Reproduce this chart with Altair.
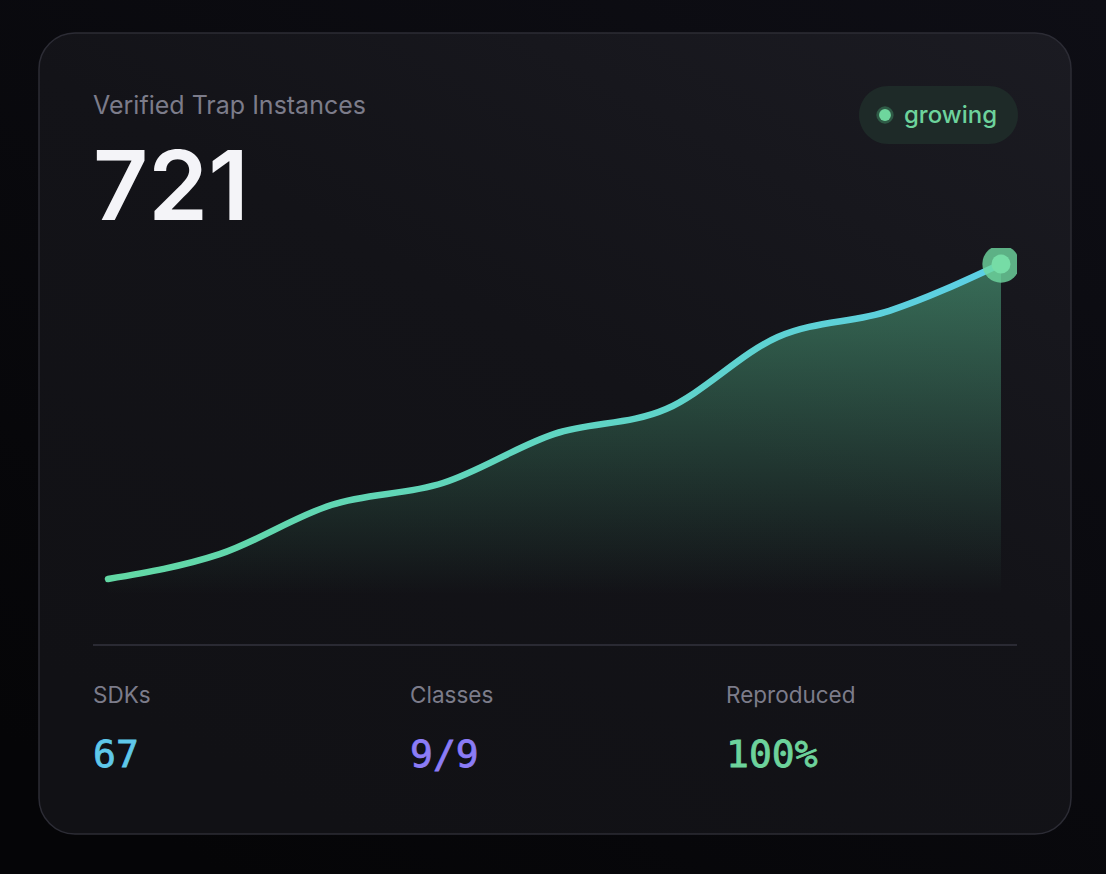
import altair as alt
import pandas as pd

# ---- data ----
periods = [0, 1, 2, 3, 4, 5, 6, 7, 8]
instances = [35, 89, 196, 244, 351, 405, 562, 619, 721]

title_text = "Verified Trap Instances"
headline = "721"
badge_text = "growing"
stat_labels = ["SDKs", "Classes", "Reproduced"]
stat_values = ["67", "9/9", "100%"]
stat_colors = ["#5fc8ea", "#8b7cf6", "#6dd39c"]

df = pd.DataFrame({"i": periods, "v": instances})
one = pd.DataFrame({"a": [0]})

X = alt.X("i:Q", axis=None,
          scale=alt.Scale(domain=[0, 8], range=[15, 908], nice=False, zero=False))
Y = alt.Y("v:Q", axis=None,
          scale=alt.Scale(domain=[0, 721], range=[347, 16], nice=False))

# outer background
outer = alt.Chart(one).mark_rect(
    color=alt.Gradient(gradient="linear",
                       stops=[alt.GradientStop(color="#0e0e15", offset=0),
                              alt.GradientStop(color="#050507", offset=1)],
                       x1=1, x2=0.2, y1=0, y2=1)
).encode(x=alt.value(-93), x2=alt.value(1013), y=alt.value(-248), y2=alt.value(626))

card = alt.Chart(one).mark_rect(
    cornerRadius=36,
    stroke="#2c2c35", strokeWidth=1.5,
    fill=alt.Gradient(gradient="linear",
                      stops=[alt.GradientStop(color="#1b1b22", offset=0),
                             alt.GradientStop(color="#131318", offset=0.5),
                             alt.GradientStop(color="#111115", offset=1)],
                      x1=1, y1=0, x2=0.3, y2=1)
).encode(x=alt.value(-54), x2=alt.value(978), y=alt.value(-215), y2=alt.value(586))

divider = alt.Chart(one).mark_rule(color="#2a2a33", strokeWidth=2).encode(
    x=alt.value(0), x2=alt.value(924), y=alt.value(397))

area = alt.Chart(df).mark_area(
    interpolate="monotone",
    color=alt.Gradient(gradient="linear",
                       stops=[alt.GradientStop(color="rgba(96,214,160,0.45)", offset=0),
                              alt.GradientStop(color="rgba(96,214,160,0.0)", offset=1)],
                       x1=0, x2=0, y1=0, y2=1)
).encode(x=X, y=Y)

line = alt.Chart(df).mark_line(
    interpolate="monotone", strokeWidth=6.5, strokeCap="round",
    stroke=alt.Gradient(gradient="linear",
                        stops=[alt.GradientStop(color="#62d8a4", offset=0),
                               alt.GradientStop(color="#5fd4c4", offset=0.55),
                               alt.GradientStop(color="#5ccfe6", offset=1)],
                        x1=0, x2=1, y1=0, y2=0)
).encode(x=X, y=Y)

last = alt.datum.i == periods[-1]
halo = alt.Chart(df).transform_filter(last).mark_circle(
    size=1390, color="#6fd8a0", opacity=0.8, clip=True).encode(x=X, y=Y)
dot_end = alt.Chart(df).transform_filter(last).mark_circle(
    size=360, color="#76dca6", opacity=1, clip=True).encode(x=X, y=Y)

pill = alt.Chart(one).mark_rect(cornerRadius=29, color="#1e2a28").encode(
    x=alt.value(766), x2=alt.value(925), y=alt.value(-162), y2=alt.value(-104))
pill_ring = alt.Chart(one).mark_circle(size=300, color="#2f5a46", opacity=1).encode(
    x=alt.value(792), y=alt.value(-133))
pill_dot = alt.Chart(one).mark_circle(size=140, color="#6ed69d", opacity=1).encode(
    x=alt.value(792), y=alt.value(-133))
pill_text = alt.Chart(one).mark_text(
    text=badge_text, font="Inter", fontSize=24, fontWeight=500, color="#6dd39c",
    align="left", baseline="middle").encode(x=alt.value(811), y=alt.value(-132))

title = alt.Chart(one).mark_text(
    text=title_text, font="Inter", fontSize=25, fontWeight=400, color="#7c7c8a",
    align="left", baseline="alphabetic").encode(x=alt.value(0), y=alt.value(-134))
big = alt.Chart(one).mark_text(
    text=headline, font="Inter", fontSize=96, fontWeight=600, color="#f4f4f8",
    align="left", baseline="alphabetic").encode(x=alt.value(0), y=alt.value(-28))

stat_x = [0, 317, 633]
stat_layers = []
for lab, val, col, sx in zip(stat_labels, stat_values, stat_colors, stat_x):
    stat_layers.append(alt.Chart(one).mark_text(
        text=lab, font="Inter", fontSize=22.5, fontWeight=400, color="#7c7c8a",
        align="left", baseline="alphabetic").encode(x=alt.value(sx), y=alt.value(455)))
    stat_layers.append(alt.Chart(one).mark_text(
        text=val, font="DejaVu Sans Mono", fontSize=38, fontWeight="normal", color=col,
        stroke=col, strokeWidth=0.8,
        align="left", baseline="alphabetic").encode(x=alt.value(sx), y=alt.value(519)))

chart = alt.layer(
    outer, card, divider, area, line, halo, dot_end,
    pill, pill_ring, pill_dot, pill_text, title, big, *stat_layers
).properties(
    width=924, height=347,
    padding={"left": 93, "top": 248, "right": 89, "bottom": 279},
    autosize=alt.AutoSizeParams(type="none"),
    background="#07070b",
).configure_view(strokeWidth=0)

chart.save("out.html", embed_options={"renderer": "svg", "actions": False})
